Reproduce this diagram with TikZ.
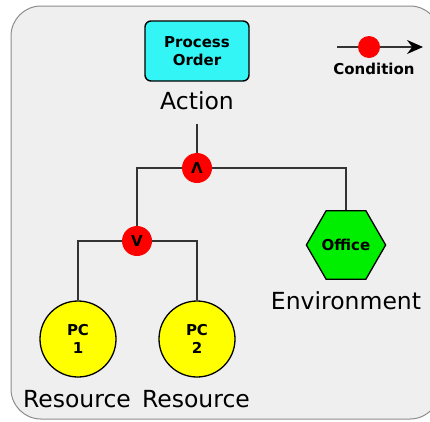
\documentclass[tikz,border=0pt]{standalone}
\usepackage{fontspec}
\setmainfont{DejaVu Sans}
\usetikzlibrary{shapes.geometric,arrows.meta}
\definecolor{panel}{HTML}{EFEFEF}
\definecolor{panelrim}{HTML}{8C8C8C}
\definecolor{wire}{HTML}{333333}
\definecolor{actfill}{HTML}{33F5F5}
\definecolor{envfill}{HTML}{00EE00}
\definecolor{resfill}{HTML}{FFFF00}
\definecolor{condfill}{HTML}{FF0000}
\tikzset{
  wireline/.style={draw=wire, line width=1.8pt},
  bold/.style={font=\bfseries\fontsize{15}{18}\selectfont, align=center},
  caption/.style={font=\fontsize{23.5}{24}\selectfont, inner sep=0pt},
  actbox/.style={bold, draw=black, line width=1.4pt, fill=actfill, rounded corners=6pt,
    minimum width=104pt, minimum height=60pt, inner sep=0pt},
  condnode/.style={circle, fill=condfill, minimum size=30pt, inner sep=0pt,
    font=\bfseries\fontsize{15}{15}\selectfont},
  resnode/.style={bold, circle, draw=black, line width=1.3pt, fill=resfill,
    minimum size=76pt, inner sep=0pt},
  envnode/.style={bold, regular polygon, regular polygon sides=6, draw=black,
    line width=1.3pt, fill=envfill, minimum size=78pt, inner sep=0pt},
}
\begin{document}
\begin{tikzpicture}[x=1pt,y=-1pt]
  \useasboundingbox (0,0) rectangle (430,421);
  % panel
  \path[fill=white] (0,0) rectangle (430,421);
  \draw[panelrim, fill=panel, line width=1pt, rounded corners=30pt] (11,6) rectangle (440,419);

  % action
  \node[actbox] (order) at (197,51) {Process\\Order};
  \node[caption] (action) at (197,101) {Action};
  \coordinate (actfoot) at (197,124);

  % conditions
  \node[condnode] (and) at (197,168) {Λ};
  \node[condnode] (or) at (137,241) {V};

  % environment
  \node[envnode] (office) at (346,245) {Office};
  \node[caption] (env) at (346,301) {Environment};

  % resources
  \node[resnode] (pc1) at (78,339) {PC\\1};
  \node[resnode] (pc2) at (197,339) {PC\\2};
  \node[caption] (res1) at (77,399) {Resource};
  \node[caption] (res2) at (196,399) {Resource};

  % connectors
  \draw[wireline] (actfoot) -- (and);
  \draw[wireline] (and) -- (office.north |- and) -- (office.north);
  \draw[wireline] (and) -- (or |- and) -- (or);
  \draw[wireline] (or) -- (pc1 |- or) -- (pc1);
  \draw[wireline] (or) -- (pc2 |- or) -- (pc2);

  % legend
  \coordinate (legA) at (337,47);
  \coordinate (legB) at (423,47);
  \draw[wireline, -{Stealth[length=16pt,width=14pt,black]}] (legA) -- (legB);
  \node[circle, fill=condfill, minimum size=22pt, inner sep=0pt] (legdot) at (369,47) {};
  \node[bold] (legtext) at (374,69) {Condition};
\end{tikzpicture}
\end{document}
